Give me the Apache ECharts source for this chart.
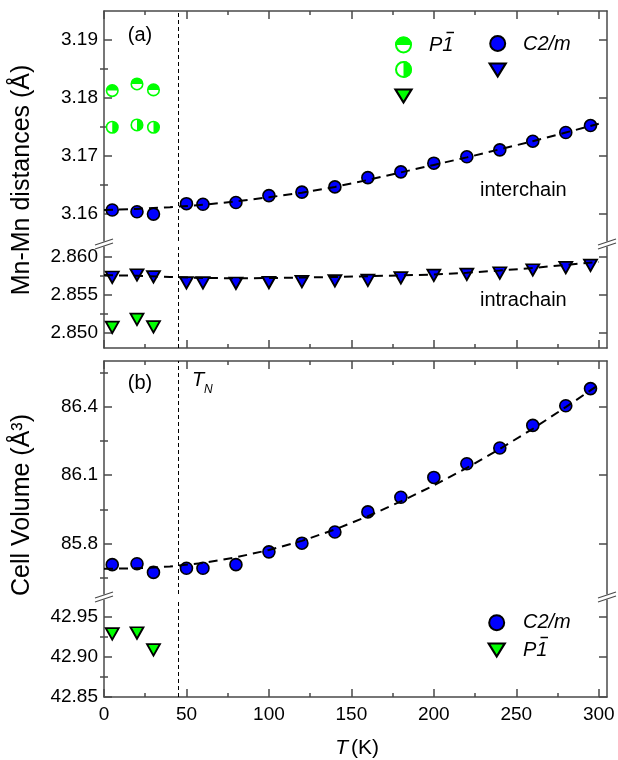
<!DOCTYPE html>
<html>
<head>
<meta charset="utf-8">
<script src="https://cdn.jsdelivr.net/npm/echarts@6/dist/echarts.min.js"></script>
<style>
  html, body { margin: 0; padding: 0; background: #fff; }
  #chart { width: 618px; height: 760px; }
</style>
</head>
<body>
<div id="chart"></div>
<script>
// ---------------- data ----------------
// Temperatures (K) of the C2/m refinements
const tempC2m = [5, 20, 30, 50, 60, 80, 100, 120, 140, 160, 180, 200, 220, 240, 260, 280, 295];
// Mn-Mn interchain distance (Å), C2/m
const interC2m = [3.1606, 3.1603, 3.1599, 3.1617, 3.1616, 3.1619, 3.1631, 3.1637, 3.1646, 3.1662,
                  3.1672, 3.1687, 3.1698, 3.1710, 3.1725, 3.1740, 3.1752];
// Mn-Mn intrachain distance (Å), C2/m
const intraC2m = [2.85733, 2.85763, 2.85737, 2.85658, 2.85658, 2.85654, 2.85664, 2.85675, 2.85684,
                  2.85691, 2.85726, 2.85757, 2.85772, 2.85789, 2.85829, 2.85860, 2.85890];
// Cell volume (Å^3), C2/m
const volC2m = [85.708, 85.712, 85.674, 85.692, 85.692, 85.708, 85.764, 85.802, 85.851, 85.939,
                86.003, 86.090, 86.150, 86.219, 86.318, 86.404, 86.479];

// Temperatures (K) of the P-1 refinements
const tempP1 = [5, 20, 30];
const interP1a = [3.18124, 3.18239, 3.18136];   // interchain, first pair
const interP1b = [3.17491, 3.17530, 3.17491];   // interchain, second pair
const intraP1 = [2.85072, 2.85178, 2.85079];    // intrachain
const volP1 = [42.929, 42.930, 42.909];         // cell volume (Å^3)

// Fitted curves (dashed)
const fitTemp = [0, 20, 40, 60, 80, 100, 120, 140, 160, 180, 200, 220, 240, 260, 280, 300];
const fitInter = [3.1606, 3.1608, 3.1611, 3.1615, 3.1621, 3.1628, 3.1636, 3.1646, 3.1658, 3.1671,
                  3.1684, 3.1697, 3.1711, 3.1725, 3.1740, 3.1755];
const fitIntra = [2.85762, 2.85752, 2.85736, 2.85724, 2.85720, 2.85722, 2.85729, 2.85737, 2.85747,
                  2.85757, 2.85770, 2.85792, 2.85822, 2.85855, 2.85896, 2.85935];
const fitVol = [85.690, 85.692, 85.700, 85.715, 85.740, 85.772, 85.812, 85.862, 85.920, 85.985,
                86.055, 86.132, 86.215, 86.303, 86.398, 86.496];

// Néel temperature (K)
const TN = 45;

// Tick values
const tempTicks = [0, 50, 100, 150, 200, 250, 300];
const tempMinor = [25, 75, 125, 175, 225, 275];
const interTicks = [3.16, 3.17, 3.18, 3.19];
const interMinor = [3.165, 3.175, 3.185];
const intraTicks = [2.850, 2.855, 2.860];
const intraMinor = [2.8525, 2.8575];
const volTicks = [85.8, 86.1, 86.4];
const volMinor = [85.65, 85.95, 86.25, 86.55];
const volP1Ticks = [42.85, 42.90, 42.95];
const volP1Minor = [42.875, 42.925];

// ---------------- styling / layout ----------------
const FONT = '"Liberation Sans", Arial, Helvetica, sans-serif';
const AXIS = '#4a4a4a';
const BLUE = '#0000ff';
const GREEN = '#00ff00';
const TICK_FONT = 19;
const PLOT_LEFT = 104, PLOT_WIDTH = 503;
const T_MIN = 0, T_MAX = 305;

// four stacked plot areas: (a) upper, (a) lower, (b) upper, (b) lower
const panels = [
  { top: 11,  height: 230, min: 3.15525, max: 3.195,   ticks: interTicks, minor: interMinor, dec: 2, xPos: 'top',    xLabels: false },
  { top: 247, height: 101, min: 2.848,   max: 2.86132, ticks: intraTicks, minor: intraMinor, dec: 3, xPos: 'bottom', xLabels: false },
  { top: 361, height: 233, min: 85.5794, max: 86.6,    ticks: volTicks,   minor: volMinor,   dec: 1, xPos: 'top',    xLabels: false },
  { top: 600, height: 97,  min: 42.85,   max: 42.97125, ticks: volP1Ticks, minor: volP1Minor, dec: 2, xPos: 'bottom', xLabels: true }
];

const lineStyle = { color: AXIS, width: 1.5 };

const grids = [], xAxes = [], yAxes = [];
panels.forEach((p, gi) => {
  grids.push({ left: PLOT_LEFT, top: p.top, width: PLOT_WIDTH, height: p.height, containLabel: false, outerBoundsMode: 'none' });
  // temperature axis: major ticks (+labels on the bottom one) and minor ticks
  xAxes.push({
    gridIndex: gi, type: 'value', position: p.xPos, min: T_MIN, max: T_MAX,
    axisLine: { show: true, onZero: false, lineStyle },
    axisTick: { show: true, inside: true, length: 8, customValues: tempTicks, lineStyle },
    axisLabel: { show: p.xLabels, customValues: tempTicks, margin: 8, fontSize: TICK_FONT, fontFamily: FONT, color: '#000' },
    splitLine: { show: false }
  });
  xAxes.push({
    gridIndex: gi, type: 'value', position: p.xPos, min: T_MIN, max: T_MAX,
    axisLine: { show: false },
    axisTick: { show: true, inside: true, length: 4, customValues: tempMinor, lineStyle },
    axisLabel: { show: false }, splitLine: { show: false }
  });
  ['left', 'right'].forEach(side => {
    yAxes.push({
      gridIndex: gi, type: 'value', position: side, min: p.min, max: p.max,
      axisLine: { show: true, onZero: false, lineStyle },
      axisTick: { show: true, inside: true, length: 8, customValues: p.ticks, lineStyle },
      axisLabel: {
        show: side === 'left', customValues: p.ticks, margin: 6,
        fontSize: TICK_FONT, fontFamily: FONT, color: '#000',
        formatter: v => Number(v).toFixed(p.dec)
      },
      splitLine: { show: false }
    });
    yAxes.push({
      gridIndex: gi, type: 'value', position: side, min: p.min, max: p.max,
      axisLine: { show: false },
      axisTick: { show: true, inside: true, length: 4, customValues: p.minor, lineStyle },
      axisLabel: { show: false }, splitLine: { show: false }
    });
  });
});

const zip = (xs, ys) => xs.map((x, i) => [x, ys[i]]);

const tnLine = {
  silent: true, symbol: ['none', 'none'], label: { show: false },
  lineStyle: { color: '#000', width: 1, type: [4, 3] },
  emphasis: { disabled: true },
  data: [{ xAxis: TN }]
};

const fitStyle = { color: '#000', width: 2, type: [9, 6] };

function fitSeries(gi, ys, withTN) {
  const s = {
    type: 'line', xAxisIndex: gi * 2, yAxisIndex: gi * 4,
    data: zip(fitTemp, ys), smooth: false,
    showSymbol: false, symbol: 'none', lineStyle: fitStyle, z: 4, silent: true
  };
  if (withTN) s.markLine = tnLine;
  return s;
}

const DOWN_TRI = 'path://M0,0 L20,0 L10,17.3 Z';
const TOP_HALF = 'path://M0,10 A10,10 0 0,1 20,10 Z';
const RIGHT_HALF = 'path://M10,0 A10,10 0 0,1 10,20 Z';

function scatter(gi, xs, ys, opts) {
  return Object.assign({
    type: 'scatter', xAxisIndex: gi * 2, yAxisIndex: gi * 4,
    data: zip(xs, ys), z: 3, silent: true
  }, opts);
}

const blueCircle = { symbol: 'circle', symbolSize: 12, itemStyle: { color: BLUE, opacity: 1, borderColor: '#000', borderWidth: 1.6 } };
const blueTri = { symbol: DOWN_TRI, symbolSize: [13, 11.5], itemStyle: { color: BLUE, opacity: 1, borderColor: '#000', borderWidth: 1.8 } };
const greenTri = { symbol: DOWN_TRI, symbolSize: [13, 11.5], itemStyle: { color: GREEN, opacity: 1, borderColor: '#000', borderWidth: 1.8 } };
const HS = 11.5; // half-filled marker diameter
const openGreen = { symbol: 'circle', symbolSize: HS, itemStyle: { color: '#fff', opacity: 1, borderColor: GREEN, borderWidth: 1.6 } };
const topFill = { symbol: TOP_HALF, symbolSize: [HS, HS / 2], symbolOffset: [0, -HS / 4], itemStyle: { color: GREEN, opacity: 1 } };
const rightFill = { symbol: RIGHT_HALF, symbolSize: [HS / 2, HS], symbolOffset: [HS / 4, 0], itemStyle: { color: GREEN, opacity: 1 } };

const series = [
  // (a) interchain
  scatter(0, tempC2m, interC2m, blueCircle),
  scatter(0, tempP1, interP1a, openGreen),
  scatter(0, tempP1, interP1a, Object.assign({ z: 3.5 }, topFill)),
  scatter(0, tempP1, interP1b, openGreen),
  scatter(0, tempP1, interP1b, Object.assign({ z: 3.5 }, rightFill)),
  fitSeries(0, fitInter, true),
  // (a) intrachain
  scatter(1, tempC2m, intraC2m, blueTri),
  scatter(1, tempP1, intraP1, greenTri),
  fitSeries(1, fitIntra, true),
  // (b) cell volume
  scatter(2, tempC2m, volC2m, blueCircle),
  fitSeries(2, fitVol, true),
  Object.assign(scatter(3, tempP1, volP1, greenTri), { markLine: tnLine })
];

// ---------------- annotations ----------------
const g = [];
function text(x, y, str, size, opts) {
  g.push(Object.assign({
    type: 'text', x, y, z: 100, silent: true,
    style: Object.assign({ text: str, font: `${size}px ${FONT}`, fill: '#000', textAlign: 'left', textVerticalAlign: 'middle' }, (opts && opts.style) || {})
  }, (opts && opts.el) || {}));
}
function seg(x1, y1, x2, y2, color, w) {
  g.push({ type: 'line', z: 100, silent: true, shape: { x1, y1, x2, y2 }, style: { stroke: color, lineWidth: w } });
}
function legendCircle(cx, cy, r, fill) {
  g.push({ type: 'circle', z: 100, silent: true, shape: { cx, cy, r }, style: { fill, stroke: '#000', lineWidth: 2 } });
}
function legendTri(cx, cy, w, h, fill) {
  g.push({ type: 'polygon', z: 100, silent: true,
    shape: { points: [[cx - w / 2, cy - h / 2], [cx + w / 2, cy - h / 2], [cx, cy + h / 2]] },
    style: { fill, stroke: '#000', lineWidth: 2.2, lineJoin: 'miter' } });
}
function legendHalf(cx, cy, r, a0, a1) {
  g.push({ type: 'circle', z: 100, silent: true, shape: { cx, cy, r }, style: { fill: '#fff', stroke: GREEN, lineWidth: 2 } });
  g.push({ type: 'sector', z: 101, silent: true, shape: { cx, cy, r0: 0, r: r + 1, startAngle: a0, endAngle: a1, clockwise: true }, style: { fill: GREEN } });
}
function p1bar(x, y) {
  // "P1" with an overbar on the 1
  text(x, y, 'P1', 20, { style: { font: `italic 20px ${FONT}` } });
  seg(x + 17.5, y - 12.5, x + 25, y - 12.5, '#000', 1.5);
}

// panel letters and labels
text(140, 35, '(a)', 20, { style: { textAlign: 'center' } });
text(140, 383, '(b)', 20, { style: { textAlign: 'center' } });
text(192, 380, 'T', 20, { style: { font: `italic 20px ${FONT}` } });
text(204, 390, 'N', 12, { style: { font: `italic 12px ${FONT}` } });
text(480, 190, 'interchain', 20);
text(480, 300, 'intrachain', 20);

// axis titles
text(22, 180, 'Mn-Mn distances (Å)', 25, { style: { textAlign: 'center' }, el: { rotation: Math.PI / 2 } });
text(22, 505, 'Cell Volume (Å³)', 25, { style: { textAlign: 'center' }, el: { rotation: Math.PI / 2 } });
text(348, 748, 'T', 21, { style: { font: `italic 21px ${FONT}`, textAlign: 'right' } });
text(351, 748, '(K)', 21);

// legend, panel (a)
legendHalf(403.5, 45, 7.5, Math.PI, 2 * Math.PI);
p1bar(429, 45);
legendCircle(497.7, 43.5, 7.5, BLUE);
text(523, 44, 'C2/m', 20, { style: { font: `italic 20px ${FONT}` } });
legendHalf(403.5, 69.5, 7.5, -Math.PI / 2, Math.PI / 2);
legendTri(497.7, 70, 16, 13, BLUE);
legendTri(403.5, 96, 16, 13, GREEN);

// legend, panel (b)
legendCircle(496.7, 622.7, 7.5, BLUE);
text(523, 622.7, 'C2/m', 20, { style: { font: `italic 20px ${FONT}` } });
legendTri(496.7, 650, 16, 13, GREEN);
p1bar(523, 650);

// axis break marks
function breakMark(cx, cy) {
  seg(cx - 9, cy + 1, cx + 9, cy - 5, AXIS, 1.2);
  seg(cx - 9, cy + 5, cx + 9, cy - 1, AXIS, 1.2);
}
breakMark(PLOT_LEFT, 244);
breakMark(PLOT_LEFT + PLOT_WIDTH, 244);
breakMark(PLOT_LEFT, 597);
breakMark(PLOT_LEFT + PLOT_WIDTH, 597);

const chart = echarts.init(document.getElementById('chart'), null, { renderer: 'canvas' });
chart.setOption({
  animation: false,
  backgroundColor: '#fff',
  textStyle: { fontFamily: FONT },
  grid: grids,
  xAxis: xAxes,
  yAxis: yAxes,
  series,
  graphic: { elements: g }
});
</script>
</body>
</html>
